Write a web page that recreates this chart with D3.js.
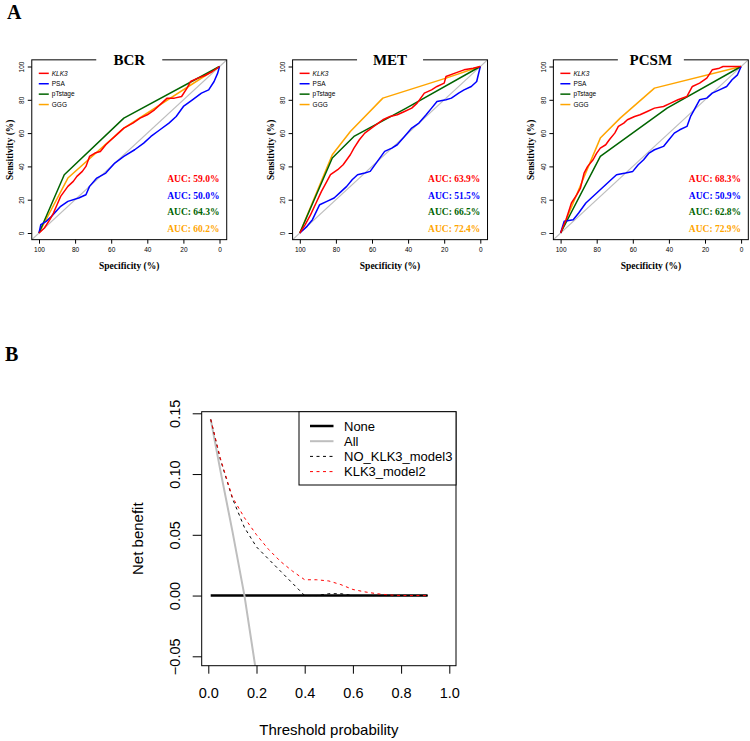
<!DOCTYPE html>
<html><head><meta charset="utf-8">
<script src="https://cdn.jsdelivr.net/npm/d3@7"></script>
<style>body{margin:0;background:#fff}svg{display:block}</style>
</head><body>
<svg id="c" width="750" height="741"></svg>
<script>
// ---------------- DATA ----------------
const panels = ["BCR", "MET", "PCSM"];
const seriesNames = ["KLK3", "PSA", "pTstage", "GGG"];
const rocTicks = [100, 80, 60, 40, 20, 0];

const aucBCR  = [59.0, 50.0, 64.3, 60.2];
const aucMET  = [63.9, 51.5, 66.5, 72.4];
const aucPCSM = [68.3, 50.9, 62.8, 72.9];

// [specificity %, sensitivity %]
const bcrKLK3 = [[100,0],[97,3],[94,8],[92,12],[90,17],[88,22],[86,25],[84,28],[81,31],[79,34],[76,37],[74,40],[72,46],[69,48],[66,49],[63,53],[60,56],[56,60],[53,63],[48,66],[44,69],[40,71],[36,74],[32,78],[29,81],[25,81],[21,82],[18,87],[16,91],[12,93],[8,94.6],[4,97],[0,100]];
const bcrPSA = [[100,0],[99,5],[96,7],[93,10],[88,16],[84,19],[78,21],[74,23],[72,28],[68,33],[63,36],[58,42],[53,46],[47,50],[42,54],[38,58],[33,62],[28,66],[24,70],[20,76],[15,80],[10,84],[6,86],[3,91],[1,96],[0,100]];
const bcrPT  = [[100,0],[86,35],[53,69],[0,100]];
const bcrGGG = [[100,0],[84,33],[53,63],[0,100]];

const metKLK3 = [[100,0],[97,5],[94,11],[91,18],[88,25],[85,31],[83,35],[79,38],[76,41],[74,44],[72,47],[70,51],[67,56],[64,60],[59,64],[54,68],[50,70],[46,71],[42,73],[38,75],[35,78],[31,84],[27,86],[24,88],[20,90],[19,94],[14,96],[9,98],[4,99],[0,100]];
const metPSA = [[100,0],[96,4],[93,8],[89,17],[85,19],[81,21],[77,25],[74,28],[71,32],[68,35],[64,36],[61,37],[57,43],[53,49],[49,51],[46,53],[42,58],[38,63],[34,66],[30,71],[27,75],[24,79],[19,80],[16,81],[12,84],[9,86],[5,88],[2,91],[0,100]];
const metPT  = [[100,0],[82,45],[70,58],[41,75],[0,100]];
const metGGG = [[100,0],[82,47],[72,61],[54,81],[19,93],[0,100]];

const pcsmKLK3 = [[100,0],[97,8],[94,18],[91,23],[89,27],[87,36],[85,40],[82,44],[80,48],[78,51],[75,53],[73,56],[70,60],[68,64],[65,66],[63,68],[59,70],[56,71],[52,73],[48,75],[43,76],[39,78],[35,80],[30,82],[27,88],[23,90],[19,93],[16,98],[12,99],[10,100],[0,100]];
const pcsmPSA = [[100,0],[98,7],[93,8],[90,12],[86,18],[83,21],[80,24],[77,27],[74,30],[71,33],[69,35],[64,36],[60,37],[57,41],[54,44],[51,48],[48,50],[43,52],[40,56],[37,60],[34,62],[30,64],[28,70],[26,74],[23,80],[19,81],[16,84],[12,86],[8,88],[5,92],[2,95],[0,100]];
const pcsmPT  = [[100,0],[78,46],[41,75],[0,100]];
const pcsmGGG = [[100,0],[78,57],[67,69],[48,87],[0,100]];

// decision curve
const dcaTicksX = [0, 0.2, 0.4, 0.6, 0.8, 1.0];
const dcaTicksY = [-0.05, 0, 0.05, 0.10, 0.15];
const dcaLabelsY = ["\u22120.05", "0.00", "0.05", "0.10", "0.15"];
const noneT  = [0.01, 0.91];
const noneNB = [0, 0];
const allT   = [0.01, 0.05, 0.10, 0.15, 0.20];
const allNB  = [0.145, 0.103, 0.053, 0.0, -0.065];
const noT  = [0.01, 0.05, 0.10, 0.15, 0.20, 0.25, 0.30, 0.35, 0.40, 0.45, 0.50, 0.55, 0.60, 0.70, 0.80, 0.91];
const noNB = [0.145, 0.112, 0.080, 0.056, 0.040, 0.030, 0.020, 0.010, 0.0, 0.0, 0.0015, 0.0015, 0.0, 0.0, 0.0, 0.0];
const klkT  = [0.01, 0.05, 0.10, 0.15, 0.20, 0.25, 0.30, 0.35, 0.40, 0.45, 0.50, 0.55, 0.60, 0.65, 0.70, 0.75, 0.80, 0.85, 0.91];
const klkNB = [0.145, 0.113, 0.081, 0.064, 0.050, 0.038, 0.028, 0.020, 0.013, 0.013, 0.012, 0.009, 0.005, 0.003, 0.0015, 0.0005, 0.0, 0.0, 0.0];
const dcaLegend = ["None", "All", "NO_KLK3_model3", "KLK3_model2"];

// ---------------- DRAW ----------------
const svg = d3.select("#c");
const sans = "'Liberation Sans', Arial, Helvetica, sans-serif";
const serif = "'Liberation Serif', 'Times New Roman', serif";
const colors = ["#ff0000", "#0000ff", "#006400", "#ffa500"];
const rocData = [
  [bcrKLK3, bcrPSA, bcrPT, bcrGGG],
  [metKLK3, metPSA, metPT, metGGG],
  [pcsmKLK3, pcsmPSA, pcsmPT, pcsmGGG]
];
const aucs = [aucBCR, aucMET, aucPCSM];

svg.append("text").attr("x", 7).attr("y", 19).attr("font-family", serif)
  .attr("font-weight", "bold").attr("font-size", 20).text("A");
svg.append("text").attr("x", 5).attr("y", 361).attr("font-family", serif)
  .attr("font-weight", "bold").attr("font-size", 20).text("B");

panels.forEach((name, i) => {
  const x0 = 39 + 260.8 * i;
  const x = d3.scaleLinear().domain([100, 0]).range([x0, x0 + 180.5]);
  const y = d3.scaleLinear().domain([0, 100]).range([233, 66.5]);
  const g = svg.append("g");
  const bx0 = x(104), bx1 = x(-4), by0 = y(104), by1 = y(-4);
  const cid = "clip" + i;
  svg.append("clipPath").attr("id", cid).append("rect")
    .attr("x", bx0).attr("y", by0).attr("width", bx1 - bx0).attr("height", by1 - by0);

  // diagonal
  g.append("line").attr("clip-path", `url(#${cid})`)
    .attr("x1", x(104)).attr("y1", y(-4)).attr("x2", x(-4)).attr("y2", y(104))
    .attr("stroke", "#bebebe").attr("stroke-width", 1.2);

  const line = d3.line().x(d => x(d[0])).y(d => y(d[1]));
  [3, 2, 1, 0].forEach(k => {
    g.append("path").datum(rocData[i][k]).attr("d", line)
      .attr("fill", "none").attr("stroke", colors[k]).attr("stroke-width", 1.5)
      .attr("stroke-linejoin", "round");
  });

  // box
  g.append("rect").attr("x", bx0).attr("y", by0).attr("width", bx1 - bx0).attr("height", by1 - by0)
    .attr("fill", "none").attr("stroke", "#000").attr("stroke-width", 1);

  // axes
  const ax = g.append("g").attr("transform", `translate(0,${by1})`)
    .call(d3.axisBottom(x).tickValues(rocTicks).tickSize(4).tickPadding(4).tickFormat(d3.format("d")));
  ax.select(".domain").remove();
  ax.selectAll("text").attr("font-family", sans).attr("font-size", 6.5).attr("fill", "#000");
  const ay = g.append("g").attr("transform", `translate(${bx0},0)`)
    .call(d3.axisLeft(y).tickValues(rocTicks).tickSize(4).tickFormat(d3.format("d")));
  ay.select(".domain").remove();
  ay.selectAll("text").attr("font-family", sans).attr("font-size", 6.5).attr("fill", "#000")
    .attr("text-anchor", "middle").attr("x", 0).attr("y", 0).attr("dy", "0.35em")
    .attr("transform", "translate(-10,0) rotate(-90)");

  // title with white background
  const cx = (bx0 + bx1) / 2;
  g.append("rect").attr("x", cx - 33).attr("y", by0 - 9).attr("width", 66).attr("height", 18).attr("fill", "#fff");
  g.append("text").attr("x", cx).attr("y", by0 + 5).attr("text-anchor", "middle")
    .attr("font-family", serif).attr("font-weight", "bold").attr("font-size", 15).text(name);

  // axis titles
  g.append("text").attr("x", cx).attr("y", 269).attr("text-anchor", "middle")
    .attr("font-family", serif).attr("font-weight", "bold").attr("font-size", 9.5).text("Specificity (%)");
  g.append("text").attr("transform", `translate(${bx0 - 19},${(by0 + by1) / 2}) rotate(-90)`)
    .attr("text-anchor", "middle").attr("font-family", serif).attr("font-weight", "bold")
    .attr("font-size", 9.5).text("Sensitivity (%)");

  // legend
  seriesNames.forEach((s, k) => {
    const ly = by0 + 13.5 + k * 10.4;
    g.append("line").attr("x1", bx0 + 7).attr("x2", bx0 + 17).attr("y1", ly).attr("y2", ly)
      .attr("stroke", colors[k]).attr("stroke-width", 1.5);
    g.append("text").attr("x", bx0 + 20).attr("y", ly).attr("dy", "0.35em")
      .attr("font-family", sans).attr("font-size", 6.5)
      .attr("font-style", k === 0 ? "italic" : "normal").text(s);
  });

  // AUC labels
  aucs[i].forEach((a, k) => {
    g.append("text").attr("x", x(0)).attr("y", 182 + k * 16.5).attr("text-anchor", "end")
      .attr("font-family", serif).attr("font-weight", "bold").attr("font-size", 9.5)
      .attr("fill", colors[k]).text(`AUC: ${a.toFixed(1)}%`);
  });
});

// ---------------- DCA ----------------
const dx = d3.scaleLinear().domain([0, 1]).range([208.3, 449.3]);
const dy = d3.scaleLinear().domain([-0.05, 0.15]).range([656.3, 413.3]);
const L = 201.7, R = 456, T = 411.7, B = 665.7;
svg.append("clipPath").attr("id", "dclip").append("rect")
  .attr("x", L).attr("y", T).attr("width", R - L).attr("height", B - T);
const dg = svg.append("g");
const dline = d3.line().x(d => dx(d[0])).y(d => dy(d[1]));
const zip = (a, b) => a.map((v, i) => [v, b[i]]);

dg.append("path").datum(zip(noneT, noneNB)).attr("d", dline).attr("fill", "none")
  .attr("stroke", "#000").attr("stroke-width", 2.5).attr("clip-path", "url(#dclip)");
dg.append("path").datum(zip(allT, allNB)).attr("d", dline).attr("fill", "none")
  .attr("stroke", "#bebebe").attr("stroke-width", 2).attr("clip-path", "url(#dclip)");
dg.append("path").datum(zip(noT, noNB)).attr("d", dline).attr("fill", "none")
  .attr("stroke", "#000").attr("stroke-width", 1).attr("stroke-dasharray", "3,3.5").attr("clip-path", "url(#dclip)");
dg.append("path").datum(zip(klkT, klkNB)).attr("d", dline).attr("fill", "none")
  .attr("stroke", "#ff0000").attr("stroke-width", 1).attr("stroke-dasharray", "3,3.5").attr("clip-path", "url(#dclip)");

dg.append("rect").attr("x", L).attr("y", T).attr("width", R - L).attr("height", B - T)
  .attr("fill", "none").attr("stroke", "#000").attr("stroke-width", 1);

const dax = dg.append("g").attr("transform", `translate(0,${B})`)
  .call(d3.axisBottom(dx).tickValues(dcaTicksX).tickSize(8).tickPadding(14).tickFormat(d3.format(".1f")));
dax.select(".domain").remove();
dax.selectAll("text").attr("font-family", sans).attr("font-size", 14.5).attr("fill", "#000");
const day = dg.append("g").attr("transform", `translate(${L},0)`)
  .call(d3.axisLeft(dy).tickValues(dcaTicksY).tickSize(9).tickFormat((d, i) => dcaLabelsY[i]));
day.select(".domain").remove();
day.selectAll("text").attr("font-family", sans).attr("font-size", 14.5).attr("fill", "#000")
  .attr("text-anchor", "middle").attr("x", 0).attr("y", 0).attr("dy", "0.35em")
  .attr("transform", "translate(-27,0) rotate(-90)");

dg.append("text").attr("x", (L + R) / 2).attr("y", 735).attr("text-anchor", "middle")
  .attr("font-family", sans).attr("font-size", 15).text("Threshold probability");
dg.append("text").attr("transform", `translate(143,${(T + B) / 2}) rotate(-90)`).attr("text-anchor", "middle")
  .attr("font-family", sans).attr("font-size", 15).text("Net benefit");

// legend
const lg = dg.append("g");
lg.append("rect").attr("x", 299).attr("y", T).attr("width", R - 299).attr("height", 485 - T)
  .attr("fill", "#fff").attr("stroke", "#000").attr("stroke-width", 1);
const lstyle = [
  {c: "#000", w: 2.5, d: null},
  {c: "#bebebe", w: 2, d: null},
  {c: "#000", w: 1, d: "3,3.5"},
  {c: "#ff0000", w: 1, d: "3,3.5"}
];
dcaLegend.forEach((s, k) => {
  const ly = 426 + k * 15.2;
  lg.append("line").attr("x1", 310).attr("x2", 333.5).attr("y1", ly).attr("y2", ly)
    .attr("stroke", lstyle[k].c).attr("stroke-width", lstyle[k].w).attr("stroke-dasharray", lstyle[k].d);
  lg.append("text").attr("x", 344).attr("y", ly).attr("dy", "0.35em")
    .attr("font-family", sans).attr("font-size", 13).text(s);
});
</script>
</body></html>
